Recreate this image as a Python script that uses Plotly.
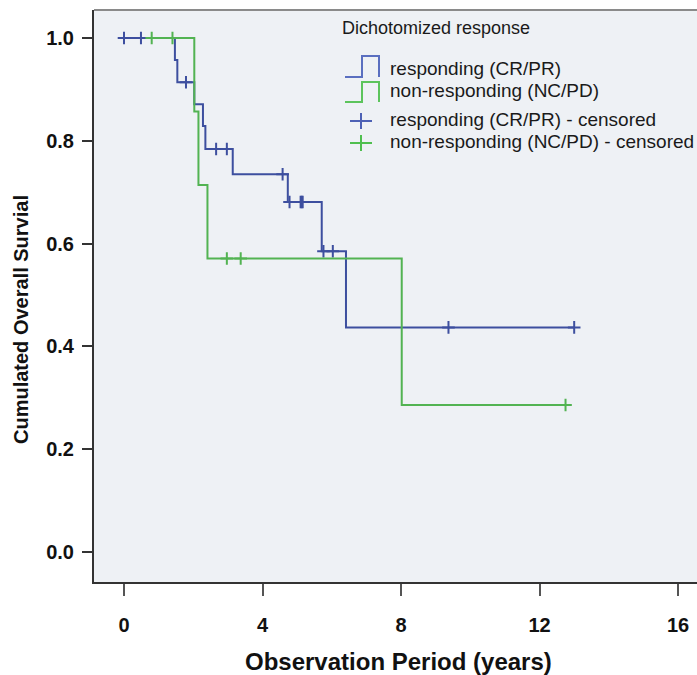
import numpy as np
import plotly.graph_objects as go

# ---------------- data ----------------
resp_times = [0.0, 1.47, 1.54, 2.03, 2.28, 2.35, 3.14, 4.73, 5.71, 6.41]
resp_surv = [1.0, 0.957, 0.914, 0.871, 0.829, 0.784, 0.735, 0.681, 0.585, 0.437]
resp_end = 13.0
resp_censored = [0.0, 0.49, 1.79, 2.66, 2.97, 4.58, 4.78, 5.1, 5.13, 5.16, 5.76, 6.03, 9.37, 13.0]

nonresp_times = [0.8, 2.03, 2.15, 2.41, 8.02]
nonresp_surv = [1.0, 0.857, 0.714, 0.571, 0.286]
nonresp_end = 12.75
nonresp_censored = [0.8, 1.4, 2.97, 3.37, 12.75]

x_ticks = [0, 4, 8, 12, 16]
y_ticks = [0.0, 0.2, 0.4, 0.6, 0.8, 1.0]

legend_title = "Dichotomized response"
legend_labels = ["responding (CR/PR)", "non-responding (NC/PD)",
                 "responding (CR/PR) - censored", "non-responding (NC/PD) - censored"]

BLUE = "#3d4f9f"
GREEN = "#52b352"
FONT = "Liberation Sans, Arial"

# ---------------- helpers ----------------
W, H = 697, 675
L, R, T, B = 94, 697, 10, 582


def px(x):
    return (x - L) / (R - L)


def py(y):
    return (B - y) / (B - T)


def surv_at(times, surv, t):
    idx = np.searchsorted(np.array(times), t, side="right") - 1
    idx = max(idx, 0)
    return surv[idx]


fig = go.Figure()

for times, surv, end, cens, col in [
    (resp_times, resp_surv, resp_end, resp_censored, BLUE),
    (nonresp_times, nonresp_surv, nonresp_end, nonresp_censored, GREEN),
]:
    fig.add_trace(go.Scatter(
        x=list(times) + [end], y=list(surv) + [surv[-1]],
        mode="lines", line=dict(color=col, width=2, shape="hv"),
        showlegend=False, hoverinfo="skip"))
    fig.add_trace(go.Scatter(
        x=cens, y=[surv_at(times, surv, t) for t in cens],
        mode="markers",
        marker=dict(symbol="cross-thin", size=9, line=dict(color=col, width=2)),
        showlegend=False, hoverinfo="skip"))

# ---------------- custom legend ----------------
shapes = []
annotations = []
annotations.append(dict(text=legend_title, x=px(340), y=py(28), xref="paper", yref="paper",
                        xanchor="left", yanchor="middle", showarrow=False,
                        font=dict(family=FONT, size=18, color="#1a1a1a")))


def step_icon(top, bottom, col):
    x0, x1, x2 = px(345), px(362), px(379)
    y0, y1 = py(bottom), py(top)
    path = f"M {x0},{y0} L {x1},{y0} L {x1},{y1} L {x2},{y1} L {x2},{y0}"
    return dict(type="path", path=path, xref="paper", yref="paper",
                line=dict(color=col, width=2))


shapes.append(step_icon(56, 77, "#5a6fc0"))
shapes.append(step_icon(82, 102, "#5cc45c"))


def plus_icon(cx, cy, col):
    return [
        dict(type="line", xref="paper", yref="paper", x0=px(cx - 11), x1=px(cx + 11),
             y0=py(cy), y1=py(cy), line=dict(color=col, width=2)),
        dict(type="line", xref="paper", yref="paper", x0=px(cx), x1=px(cx),
             y0=py(cy - 8), y1=py(cy + 8), line=dict(color=col, width=2)),
    ]


shapes += plus_icon(361, 121, "#4d61b5")
shapes += plus_icon(361, 143, "#4fbf4f")

for lab, yc in zip(legend_labels, [69, 90, 120, 142]):
    annotations.append(dict(text=lab, x=px(388), y=py(yc), xref="paper", yref="paper",
                            xanchor="left", yanchor="middle", showarrow=False,
                            font=dict(family=FONT, size=19, color="#1a1a1a")))

# top frame line
shapes.append(dict(type="line", xref="paper", yref="paper", x0=0, x1=1, y0=1, y1=1,
                   line=dict(color="#8a8a8a", width=2)))

# axis titles
annotations.append(dict(text="<b>Observation Period (years)</b>", x=px(398), y=py(661),
                        xref="paper", yref="paper", xanchor="center", yanchor="middle",
                        showarrow=False,
                        font=dict(family=FONT, size=24, color="#111")))
annotations.append(dict(text="<b>Cumulated Overall Survial</b>", x=px(21), y=py(320),
                        xref="paper", yref="paper", xanchor="center", yanchor="middle",
                        textangle=-90, showarrow=False,
                        font=dict(family=FONT, size=20, color="#111")))

x0 = -30 / 34.63
x1 = (697 - 124) / 34.63
y0 = (552 - 582) / 514
y1 = (552 - 10) / 514

fig.update_layout(
    width=W, height=H,
    margin=dict(l=L, r=W - R, t=T, b=H - B, pad=0),
    paper_bgcolor="white", plot_bgcolor="#eef1f5",
    shapes=shapes, annotations=annotations,
    showlegend=False,
    xaxis=dict(range=[x0, x1], tickvals=x_ticks, ticks="outside", ticklen=12, tickwidth=2,
               tickcolor="#555", showline=True, linecolor="#333", linewidth=2,
               showgrid=False, zeroline=False, ticklabelstandoff=12,
               tickfont=dict(family=FONT, size=20, color="#111", weight="bold")),
    yaxis=dict(range=[y0, y1], tickvals=y_ticks, tickformat=".1f", ticks="outside",
               ticklen=10, tickwidth=2, tickcolor="#333", showline=True, linecolor="#333",
               linewidth=2, showgrid=False, zeroline=False, ticklabelstandoff=4,
               tickfont=dict(family=FONT, size=20, color="#111", weight="bold")),
)

fig.write_html("out.html")
